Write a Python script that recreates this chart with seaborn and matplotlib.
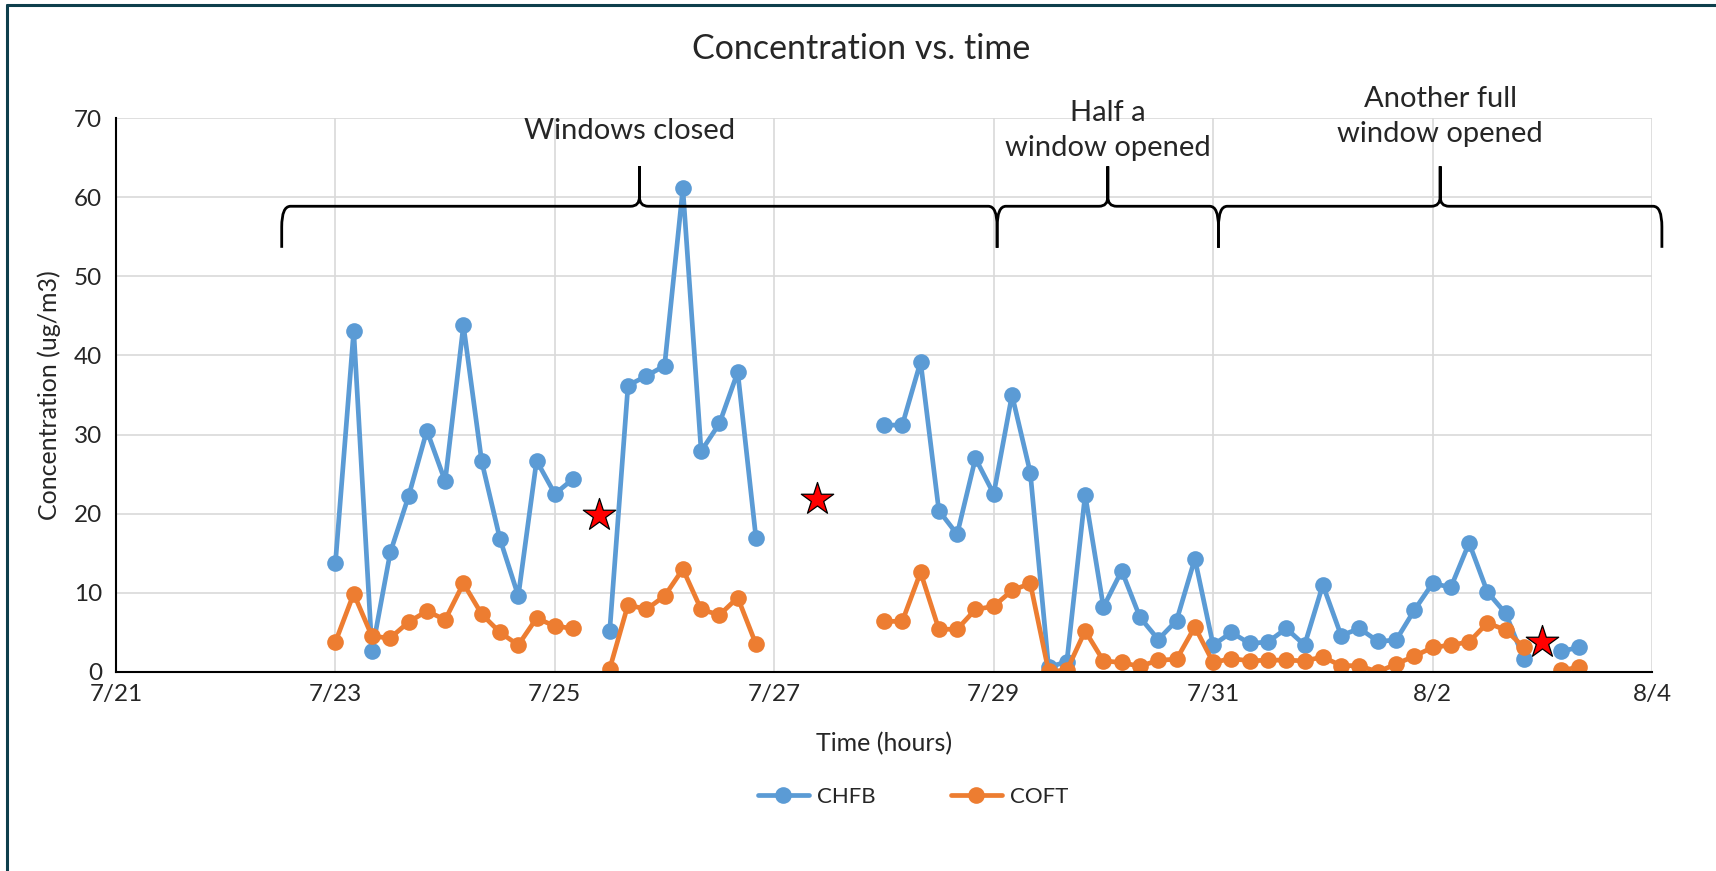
import pandas as pd
import matplotlib.pyplot as plt
import matplotlib.dates as mdates
from matplotlib.path import Path
from matplotlib.patches import PathPatch
from matplotlib.lines import Line2D
import seaborn as sns

# Readings every 4 hours, four continuous runs
seg_starts = ["2019-07-23 00:00", "2019-07-25 12:00", "2019-07-28 00:00", "2019-08-03 04:00"]

chfb = [
    [13.8, 43.1, 2.6, 15.1, 22.2, 30.5, 24.1, 43.8, 26.6, 16.8, 9.6, 26.7, 22.5, 24.4],
    [5.2, 36.2, 37.4, 38.7, 61.1, 27.9, 31.4, 37.9, 16.9],
    [31.2, 31.2, 39.2, 20.4, 17.4, 27.0, 22.5, 35.0, 25.2, 0.6, 1.3, 22.4,
     8.2, 12.8, 6.9, 4.1, 6.5, 14.3, 3.4, 5.0, 3.6, 3.8, 5.5, 3.4,
     11.0, 4.6, 5.5, 3.9, 4.0, 7.8, 11.2, 10.7, 16.3, 10.1, 7.4, 1.6],
    [2.6, 3.1],
]
coft = [
    [3.8, 9.9, 4.5, 4.3, 6.3, 7.7, 6.6, 11.2, 7.3, 5.0, 3.4, 6.8, 5.8, 5.5],
    [0.4, 8.5, 7.9, 9.6, 13.0, 7.9, 7.2, 9.4, 3.5],
    [6.4, 6.4, 12.6, 5.4, 5.4, 7.9, 8.3, 10.3, 11.2, 0.1, 0.2, 5.2,
     1.4, 1.2, 0.7, 1.5, 1.6, 5.7, 1.2, 1.7, 1.4, 1.5, 1.5, 1.4,
     1.9, 0.8, 0.8, 0.0, 1.0, 2.0, 3.1, 3.4, 3.8, 6.2, 5.3, 3.1],
    [0.2, 0.6],
]

# Event markers (stars)
star_times = ["2019-07-25 09:35", "2019-07-27 09:20", "2019-08-02 23:50"]
star_values = [19.8, 21.9, 3.8]

# Phases shown with braces above the plot
phase_edges = ["2019-07-22 12:15", "2019-07-29 00:45", "2019-07-31 01:10", "2019-08-04 02:10"]
phase_labels = ["Windows closed", "Half a\nwindow opened", "Another full\nwindow opened"]

tick_dates = ["2019-07-21", "2019-07-23", "2019-07-25", "2019-07-27",
              "2019-07-29", "2019-07-31", "2019-08-02", "2019-08-04"]
tick_labels = ["7/21", "7/23", "7/25", "7/27", "7/29", "7/31", "8/2", "8/4"]

series_colors = {"CHFB": "#5B9BD5", "COFT": "#ED7D31"}

# Build long table
rows = []
for i, start in enumerate(seg_starts):
    for name, vals in (("CHFB", chfb[i]), ("COFT", coft[i])):
        times = pd.date_range(start, periods=len(vals), freq="4h")
        for t, v in zip(times, vals):
            rows.append({"time": t, "value": v, "series": name, "segment": i})
df = pd.DataFrame(rows)
stars = pd.DataFrame({"time": pd.to_datetime(star_times), "value": star_values})

sns.set_theme(style="whitegrid")
plt.rcParams["font.family"] = ["Lato", "DejaVu Sans"]

fig = plt.figure(figsize=(17.16, 8.71), dpi=100)
ax = fig.add_axes([0.0676, 0.2285, 0.8951, 0.636])

sns.lineplot(data=df, x="time", y="value", hue="series", units="segment",
             estimator=None, sort=False, palette=series_colors, marker="o",
             markersize=12, markeredgewidth=0, linewidth=3.4, legend=False, ax=ax)
sns.scatterplot(data=stars, x="time", y="value", marker="*", s=600, color="#FF0000",
                edgecolor="black", linewidth=0.9, zorder=5, ax=ax)

ax.set_ylim(0, 70)
ax.set_yticks(range(0, 71, 10))
ax.set_xlim(pd.Timestamp(tick_dates[0]), pd.Timestamp(tick_dates[-1]))
ax.set_xticks(pd.to_datetime(tick_dates))
ax.set_xticklabels(tick_labels)
ax.tick_params(axis="x", labelsize=17.5, pad=9, length=0)
ax.tick_params(axis="y", labelsize=17.5, pad=10, length=0)
ax.grid(True, color="#D9D9D9", linewidth=1.2)
for s in ["top", "right"]:
    ax.spines[s].set_visible(False)
for s in ["bottom", "left"]:
    ax.spines[s].set_color("black")
    ax.spines[s].set_linewidth(1.5)
ax.set_facecolor("white")

ax.set_xlabel("Time (hours)", fontsize=18)
ax.set_ylabel("Concentration (ug/m3)", fontsize=18)
ax.xaxis.set_label_coords(0.5, -0.108)
ax.yaxis.set_label_coords(-0.036, 0.5)

fig.text(0.502, 0.944, "Concentration vs. time", fontsize=24.5, ha="center", va="center")


# Curly braces over each phase
def brace(x0, x1, y_line=58.85, y_low=53.6, y_tip=63.9, rx=0.08, ry_end=2.6, ry_tip=1.2):
    xm = (x0 + x1) / 2
    verts = [
        (x0, y_low), (x0, y_line - ry_end),
        (x0, y_line), (x0 + rx, y_line),
        (xm - rx, y_line),
        (xm, y_line), (xm, y_line + ry_tip),
        (xm, y_tip),
        (xm, y_line + ry_tip),
        (xm, y_line), (xm + rx, y_line),
        (x1 - rx, y_line),
        (x1, y_line), (x1, y_line - ry_end),
        (x1, y_low),
    ]
    codes = [Path.MOVETO, Path.LINETO,
             Path.CURVE3, Path.CURVE3,
             Path.LINETO,
             Path.CURVE3, Path.CURVE3,
             Path.LINETO,
             Path.LINETO,
             Path.CURVE3, Path.CURVE3,
             Path.LINETO,
             Path.CURVE3, Path.CURVE3,
             Path.LINETO]
    patch = PathPatch(Path(verts, codes), fill=False, edgecolor="black",
                      linewidth=2.0, clip_on=False, zorder=6)
    ax.add_patch(patch)
    return xm


edges = [mdates.date2num(pd.Timestamp(e)) for e in phase_edges]
label_y = [68.4, 68.4, 70.2]
for i, label in enumerate(phase_labels):
    xm = brace(edges[i], edges[i + 1])
    ax.text(xm - (0.09 if i == 0 else 0.0), label_y[i], label, fontsize=21,
            ha="center", va="center", linespacing=1.45, clip_on=False, zorder=7)

handles = [Line2D([], [], color=c, marker="o", markersize=12, markeredgewidth=0,
                  linewidth=3.4, label=n) for n, c in series_colors.items()]
fig.legend(handles=handles, loc="center", bbox_to_anchor=(0.532, 0.085), ncol=2,
           frameon=False, fontsize=16, handlelength=2.3, columnspacing=3.4,
           handletextpad=0.35)

# Chart-area border (top and left edges only)
border = "#0E3F4C"
fig.add_artist(Line2D([0.0038, 0.0038], [0.0, 0.9937], color=border, linewidth=2.2,
                      transform=fig.transFigure))
fig.add_artist(Line2D([0.0038, 1.0], [0.9937, 0.9937], color=border, linewidth=2.2,
                      transform=fig.transFigure))

fig.savefig("out.png", dpi=100, facecolor="white")
